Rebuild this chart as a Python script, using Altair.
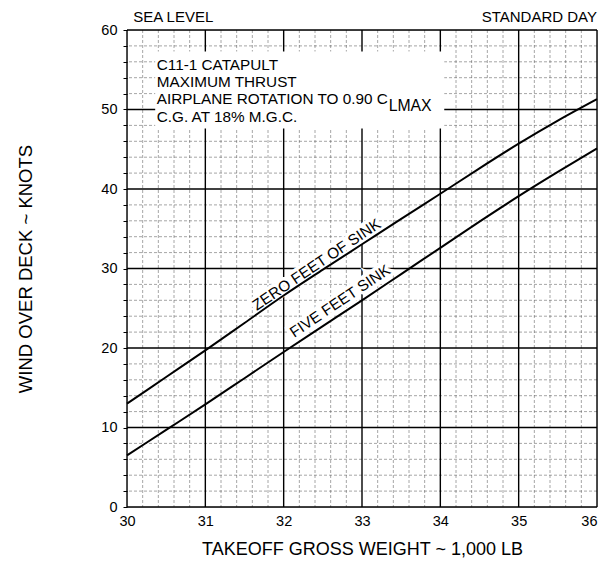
import altair as alt
import pandas as pd
import numpy as np

# ---- data ----
weight = [30.0, 30.5, 31.0, 31.5, 32.0, 32.5, 33.0, 33.5, 34.0, 34.5, 35.0, 35.5, 36.0]
zero_sink = [13.0, 16.35, 19.7, 23.15, 26.6, 29.85, 33.05, 36.25, 39.4, 42.6, 45.7, 48.6, 51.3]
five_sink = [6.5, 9.7, 12.9, 16.2, 19.5, 22.75, 26.0, 29.3, 32.6, 35.9, 39.1, 42.15, 45.1]

x_major = [30, 31, 32, 33, 34, 35, 36]
y_major = [0, 10, 20, 30, 40, 50, 60]
x_minor = [round(v, 1) for v in np.arange(30.2, 36.0, 0.2) if abs(v - round(v)) > 1e-6]
y_minor = [v for v in range(2, 60, 2) if v % 10 != 0]
y_ticks = list(range(0, 61, 2))

note_lines = ["C11-1 CATAPULT", "MAXIMUM THRUST", "AIRPLANE ROTATION TO 0.90 C", "C.G. AT 18% M.G.C."]
note_y = [55.6, 53.5, 51.3, 49.1]
curve_names = ["ZERO FEET OF SINK", "FIVE FEET SINK"]

FONT = "Liberation Sans"
FS = 15.3

df = pd.DataFrame({
    "x": weight * 2,
    "y": zero_sink + five_sink,
    "curve": [curve_names[0]] * len(weight) + [curve_names[1]] * len(weight),
})

xs = alt.Scale(domain=[30, 36], nice=False, zero=False)
ys = alt.Scale(domain=[0, 60], nice=False)

X_AX = alt.Axis(
    values=x_major, title="TAKEOFF GROSS WEIGHT ~ 1,000 LB", grid=False, ticks=False,
    domain=False, labelFont=FONT, labelFontSize=14.5, labelColor="black", labelPadding=7,
    labelAlign={"condition": {"test": "datum.value == 36", "value": "right"}, "value": "center"},
    titleFont=FONT, titleFontSize=18, titleFontWeight="normal", titleColor="black",
    titlePadding=13, labelFlush=False)
Y_AX = alt.Axis(
    values=y_ticks, title="WIND OVER DECK  ~  KNOTS", grid=False, ticks=True, tickSize=4,
    tickColor="black", domain=False, labelFont=FONT, labelFontSize=14.5, labelColor="black",
    labelExpr="datum.value % 10 == 0 ? datum.label : ''",
    labelPadding=6, titleFont=FONT, titleFontSize=18.5, titleFontWeight="normal",
    titleColor="black", titlePadding=65, labelFlush=False)


def X(f="x"):
    return alt.X(f + ":Q", scale=xs, axis=X_AX)


def Y(f="y"):
    return alt.Y(f + ":Q", scale=ys, axis=Y_AX)


minor_v = alt.Chart(pd.DataFrame({"x": x_minor})).mark_rule(
    color="#555", strokeWidth=0.7, strokeDash=[3, 2], opacity=0.75
).encode(x=X())
minor_h = alt.Chart(pd.DataFrame({"y": y_minor})).mark_rule(
    color="#555", strokeWidth=0.7, strokeDash=[3, 2], opacity=0.75
).encode(y=Y())
major_v = alt.Chart(pd.DataFrame({"x": x_major})).mark_rule(
    color="black", strokeWidth=1.4
).encode(x=X())
major_h = alt.Chart(pd.DataFrame({"y": y_major})).mark_rule(
    color="black", strokeWidth=1.4
).encode(y=Y())

box = alt.Chart(pd.DataFrame({"x": [30.36], "x2": [34.05], "y": [47.6], "y2": [57.3]})).mark_rect(
    color="white"
).encode(x=X(), x2="x2:Q", y=Y(), y2="y2:Q")

note_df = pd.DataFrame({"x": [30.38] * 4, "y": note_y, "t": note_lines})
notes = alt.Chart(note_df).mark_text(
    align="left", baseline="middle", font=FONT, fontSize=FS, color="black"
).encode(x=X(), y=Y(), text="t:N")

sub = alt.Chart(pd.DataFrame({"x": [33.34], "y": [50.5], "t": ["LMAX"]})).mark_text(
    align="left", baseline="middle", font=FONT, fontSize=FS + 0.5, color="black"
).encode(x=X(), y=Y(), text="t:N")

lab_df = pd.DataFrame({"x": [32.42, 32.72], "y": [30.5, 25.9], "t": curve_names})
halo = alt.Chart(lab_df).mark_text(
    align="center", baseline="middle", font=FONT, fontSize=FS, angle=326,
    color="white", stroke="white", strokeWidth=7
).encode(x=X(), y=Y(), text="t:N")
labs = alt.Chart(lab_df).mark_text(
    align="center", baseline="middle", font=FONT, fontSize=FS, angle=326, color="black"
).encode(x=X(), y=Y(), text="t:N")

lines = alt.Chart(df).mark_line(color="black", strokeWidth=2, interpolate="monotone").encode(
    x=X(), y=Y(), detail="curve:N"
)

top_left = alt.Chart(pd.DataFrame({"x": [30.08], "t": ["SEA LEVEL"]})).mark_text(
    align="left", baseline="alphabetic", font=FONT, fontSize=15, color="black"
).encode(x=X(), y=alt.value(-8.5), text="t:N")
top_right = alt.Chart(pd.DataFrame({"x": [36.0], "t": ["STANDARD DAY"]})).mark_text(
    align="right", baseline="alphabetic", font=FONT, fontSize=15, color="black"
).encode(x=X(), y=alt.value(-8.5), text="t:N")

chart = alt.layer(
    minor_v, minor_h, major_v, major_h, box, notes, sub, halo, labs, lines, top_left, top_right
).properties(
    width=470, height=477,
    autosize=alt.AutoSizeParams(type="none"),
    padding={"left": 119, "top": 22, "right": 1, "bottom": 51},
).configure_view(stroke="black", strokeWidth=1.5).configure(background="white")

chart.save("out.html", embed_options={"renderer": "svg", "actions": False})
